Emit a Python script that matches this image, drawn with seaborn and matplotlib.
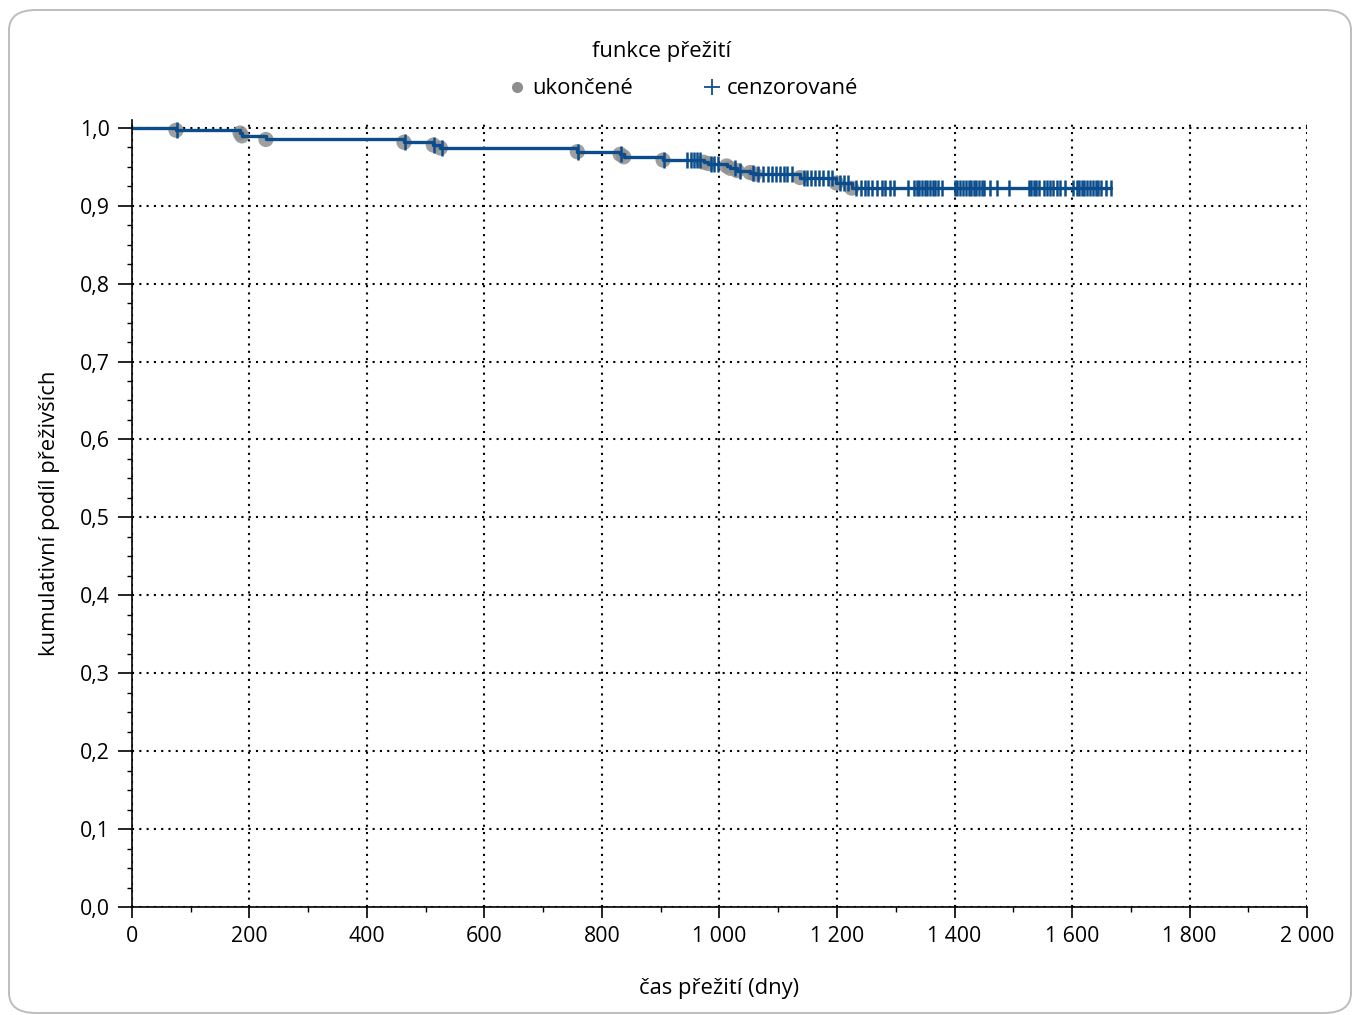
import numpy as np
import pandas as pd
import matplotlib
matplotlib.use("Agg")
import matplotlib.pyplot as plt
from matplotlib.patches import FancyBboxPatch
from matplotlib.ticker import MultipleLocator, FuncFormatter
import seaborn as sns

# event times (days) and survival after each event
event_days = [75, 184, 187, 228, 463, 513, 525, 758, 831, 837, 904, 973, 981,
              1012, 1018, 1030, 1052, 1060, 1137, 1199, 1225]
event_surv = [0.9968, 0.9932, 0.9896, 0.9850, 0.9814, 0.9778, 0.9740, 0.9693,
              0.9660, 0.9627, 0.9585, 0.9558, 0.9540, 0.9510, 0.9480, 0.9450,
              0.9425, 0.9405, 0.9360, 0.9290, 0.9225]

# censored times (days)
censored_days = [76, 464, 514, 527, 759, 832, 905,
                 945, 951, 956, 962, 967, 986, 991, 998, 1026, 1035, 1057, 1066,
                 1074, 1083, 1089, 1096, 1103, 1110, 1115, 1123, 1143, 1149, 1156,
                 1163, 1170, 1177, 1184, 1192, 1205, 1212, 1219,
                 1232, 1240, 1248, 1253, 1260, 1268, 1276, 1282, 1291, 1297,
                 1321, 1331, 1336, 1340, 1345, 1349, 1354, 1358, 1363, 1367,
                 1372, 1378, 1401, 1405, 1410, 1414, 1419, 1424, 1428, 1433,
                 1437, 1442, 1446, 1451, 1460, 1472, 1493, 1526, 1530, 1535,
                 1539, 1543, 1552, 1557, 1563, 1568, 1574, 1580, 1588, 1602,
                 1608, 1612, 1617, 1621, 1626, 1631, 1635, 1640, 1644, 1650,
                 1658, 1666]

x_ticks = [0, 200, 400, 600, 800, 1000, 1200, 1400, 1600, 1800, 2000]
y_ticks = [0.0, 0.1, 0.2, 0.3, 0.4, 0.5, 0.6, 0.7, 0.8, 0.9, 1.0]

BLUE = "#0b4d8c"
GREY = "#8e8e8e"

sns.set_style("white")
plt.rcParams['font.family'] = ['Open Sans', 'DejaVu Sans']
plt.rcParams['text.color'] = 'black'
plt.rcParams['axes.labelcolor'] = 'black'

# step curve
curve_x = [0] + event_days + [max(censored_days)]
curve_y = [1.0] + event_surv + [event_surv[-1]]
curve = pd.DataFrame({'t': curve_x, 's': curve_y})

levels = np.array([1.0] + event_surv)
idx = np.searchsorted(np.array(event_days), np.array(censored_days), side='right')
cens = pd.DataFrame({'t': censored_days, 's': levels[idx]})
events = pd.DataFrame({'t': event_days, 's': event_surv})

fig = plt.figure(figsize=(13.56, 10.15), dpi=100)
ax = fig.add_axes([0.0973, 0.1064, 0.8666, 0.7754])

# rounded frame
frame = FancyBboxPatch((9 / 1356, 2 / 1015), 1342 / 1356, 1003 / 1015,
                       boxstyle="round,pad=0,rounding_size=0.02",
                       transform=fig.transFigure, facecolor='none',
                       edgecolor='#bdbdbd', linewidth=1.4, zorder=0)
fig.patches.append(frame)

sns.scatterplot(data=events, x='t', y='s', ax=ax, color=GREY, s=120,
                alpha=0.85, edgecolor='none', zorder=3)
sns.lineplot(data=curve, x='t', y='s', ax=ax, color=BLUE, linewidth=2.4,
             drawstyle='steps-post', estimator=None, sort=False, zorder=4)
sns.scatterplot(data=cens, x='t', y='s', ax=ax, color=BLUE, marker='|', s=140,
                linewidth=1.8, zorder=5)

ax.set_xlim(0, 2000)
ax.set_ylim(0, 1.01)
ax.set_xticks(x_ticks)
ax.set_yticks(y_ticks)
ax.xaxis.set_minor_locator(MultipleLocator(100))
ax.yaxis.set_minor_locator(MultipleLocator(0.025))
ax.xaxis.set_major_formatter(FuncFormatter(lambda v, p: f"{int(v):,}".replace(",", " ")))
ax.yaxis.set_major_formatter(FuncFormatter(lambda v, p: f"{v:.1f}".replace(".", ",")))

ax.grid(True, which='major', color='black', linewidth=1.5, linestyle=(0, (1, 2.5)))
ax.set_axisbelow(True)
for s in ['top', 'right']:
    ax.spines[s].set_visible(False)
for s in ['left', 'bottom']:
    ax.spines[s].set_color('black')
    ax.spines[s].set_linewidth(1.2)
    ax.spines[s].set_zorder(6)

ax.tick_params(which='major', direction='out', width=1.2, labelsize=15.3,
               left=True, bottom=True, colors='black', pad=6)
ax.tick_params(axis='y', which='major', length=10)
ax.tick_params(axis='x', which='major', length=8)
ax.tick_params(which='minor', direction='out', length=3.5, width=1.0,
               left=True, bottom=True, colors='black')

ax.set_xlabel('čas přežití (dny)', fontsize=15.8, labelpad=22)
ax.set_ylabel('kumulativní podíl přeživších', fontsize=15.8, labelpad=14)

# legend
fig.text(662 / 1356, 1 - 52 / 1015, 'funkce přežití', fontsize=15.8,
         ha='center', va='center')
handles = [
    plt.Line2D([], [], marker='o', linestyle='none', color=GREY, markersize=8,
               markeredgewidth=0),
    plt.Line2D([], [], marker='+', linestyle='none', color=BLUE, markersize=11,
               markeredgewidth=1.3),
]
fig.legend(handles, ['ukončené', 'cenzorované'], loc='center',
           bbox_to_anchor=(681 / 1356, 1 - 89 / 1015), ncol=2, frameon=False,
           fontsize=15.8, columnspacing=3.0, handletextpad=0.1, handlelength=1.2)

fig.savefig('out.png', dpi=100)
